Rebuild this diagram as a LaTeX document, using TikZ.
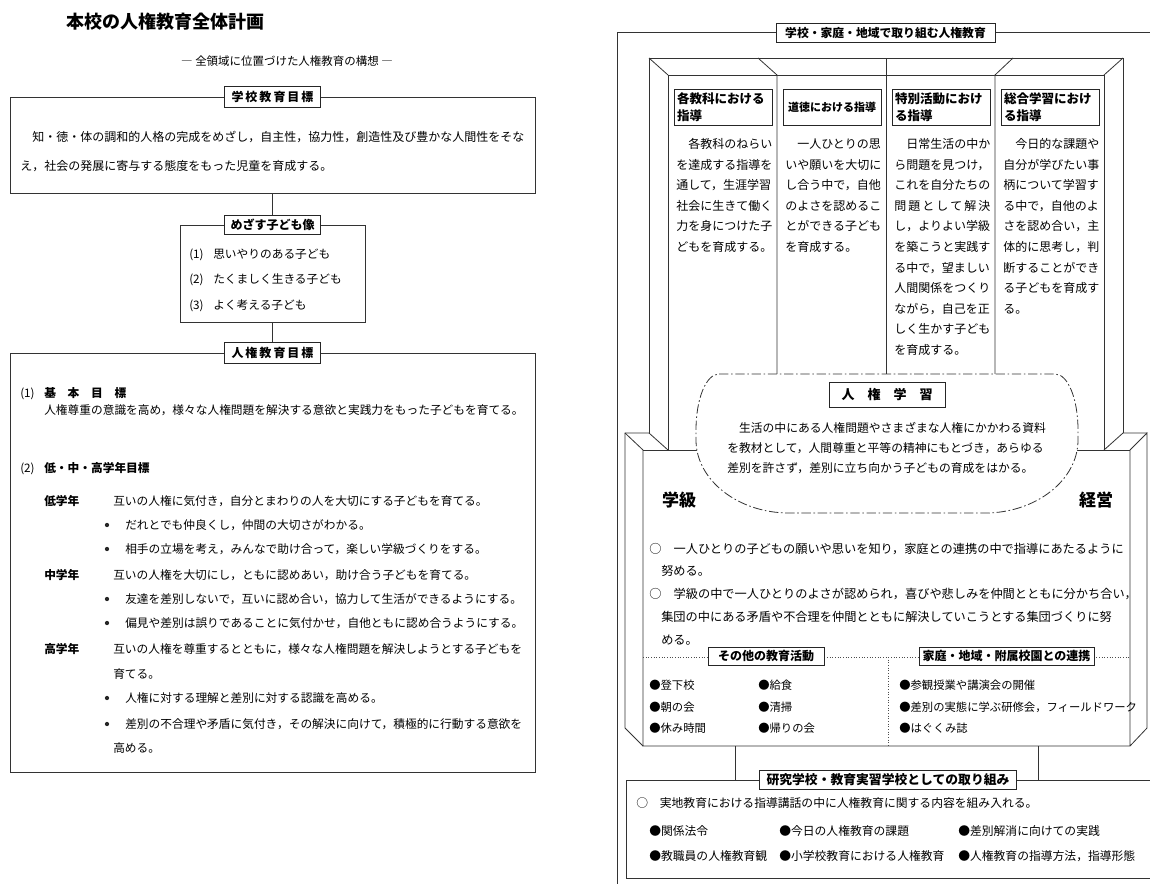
\documentclass[tikz,border=0pt]{standalone}
\usepackage{fontspec}
\setmainfont{Noto Sans CJK JP}
\usetikzlibrary{calc}
\begin{document}
\begin{tikzpicture}[x=0.75pt,y=-0.75pt,
  ln/.style={draw=black!80,line width=0.6pt},
  box/.style={draw=black!80,line width=0.6pt,inner sep=0pt},
  tag/.style={draw=black!85,line width=0.7pt,fill=white,inner sep=0pt,text height=7.92pt,text depth=1.08pt,font=\bfseries\fontsize{9}{9}\selectfont},
  clab/.style={draw=black!85,line width=0.7pt,fill=white,minimum width=73.5pt,minimum height=27pt,text width=69pt,align=left,inner xsep=2.25pt,inner ysep=0pt,font=\bfseries\fontsize{9.4}{12.4}\selectfont},
  title/.style={anchor=west,inner sep=0pt,font=\bfseries\fontsize{13.5}{14}\selectfont,text height=11.88pt,text depth=1.62pt},
  sub/.style={inner sep=0pt,font=\fontsize{8.6}{9}\selectfont,text height=7.57pt,text depth=1.03pt},
  big/.style={inner sep=0pt,font=\bfseries\fontsize{12.75}{13}\selectfont,text height=11.22pt,text depth=1.53pt},
  tA/.style={anchor=west,inner sep=0pt,font=\fontsize{8.78}{9}\selectfont,text height=7.73pt,text depth=1.05pt},
  tAb/.style={tA,font=\bfseries\fontsize{8.78}{9}\selectfont},
  tB/.style={anchor=west,inner sep=0pt,font=\fontsize{9}{9}\selectfont,text height=7.92pt,text depth=1.08pt},
  tC/.style={anchor=west,inner sep=0pt,font=\fontsize{8.85}{9}\selectfont,text height=7.79pt,text depth=1.06pt},
  tD/.style={anchor=west,inner sep=0pt,font=\fontsize{9.15}{9}\selectfont,text height=8.05pt,text depth=1.1pt},
  tE/.style={anchor=west,inner sep=0pt,font=\fontsize{8.5}{9}\selectfont,text height=7.48pt,text depth=1.02pt},
  dot/.style={circle,fill=black!85,inner sep=0pt,minimum size=3.2pt},
  dotl/.style={draw=black!70,line width=0.6pt,dash pattern=on 0.75pt off 1.25pt},
  dashdot/.style={draw=black!80,line width=0.6pt,dash pattern=on 7pt off 2pt on 1.2pt off 2pt}
]
\useasboundingbox (0,0) rectangle (1150,883);
\fill[white] (0,0) rectangle (1150,883);

% ================= LEFT =================
\node[title] (ttl) at (66,22) {本校の人権教育全体計画};
\node[sub] (subt) at (287,61) {― 全領域に位置づけた人権教育の構想 ―};

\node[box,minimum width=393.75pt,minimum height=72pt] (b1) at (272.5,145) {};
\node[tag,minimum width=72pt,minimum height=15.75pt] (b1t) at (b1.north) {学\,校\,教\,育\,目\,標};
\node[tB] (b1a) at (20,137) {　知・徳・体の調和的人格の完成をめざし，自主性，協力性，創造性及び豊かな人間性をそな};
\node[tB] (b1b) at (20,166) {え，社会の発展に寄与する態度をもった児童を育成する。};

\node[box,minimum width=138.75pt,minimum height=72.75pt] (b2) at (272.5,273.5) {};
\node[tag,minimum width=72pt,minimum height=14.25pt] (b2t) at (b2.north) {めざす子ども像};
\draw[ln] (b1.south) -- (b2t.north);
\node[tA] (m1n) at (189,254) {(1)};
\node[tA] (m1) at (213,254) {思いやりのある子ども};
\node[tA] (m2n) at (189,279) {(2)};
\node[tA] (m2) at (213,279) {たくましく生きる子ども};
\node[tA] (m3n) at (189,305) {(3)};
\node[tA] (m3) at (213,305) {よく考える子ども};

\node[box,minimum width=393.75pt,minimum height=314.25pt] (b3) at (272.5,562.5) {};
\node[tag,minimum width=72pt,minimum height=15.75pt] (b3t) at (b3.north) {人\,権\,教\,育\,目\,標};
\draw[ln] (b2.south) -- (b3t.north);

\node[tA] (k1n) at (20,393) {(1)};
\node[tAb] (k1h) at (44,393) {基　本　目　標};
\node[tA] (k1a) at (44,410) {人権尊重の意識を高め，様々な人権問題を解決する意欲と実践力をもった子どもを育てる。};
\node[tA] (k2n) at (20,468) {(2)};
\node[tAb] (k2h) at (44,468) {低・中・高学年目標};

\node[tAb] (g1) at (44,501) {低学年};
\node[tA] (g1a) at (113,501) {互いの人権に気付き，自分とまわりの人を大切にする子どもを育てる。};
\node[dot] (g1b) at (107,525) {};
\node[tA] (g1bt) at (125,525) {だれとでも仲良くし，仲間の大切さがわかる。};
\node[dot] (g1c) at (107,549) {};
\node[tA] (g1ct) at (125,549) {相手の立場を考え，みんなで助け合って，楽しい学級づくりをする。};
\node[tAb] (g2) at (44,575) {中学年};
\node[tA] (g2a) at (113,575) {互いの人権を大切にし，ともに認めあい，助け合う子どもを育てる。};
\node[dot] (g2b) at (107,599) {};
\node[tA] (g2bt) at (125,599) {友達を差別しないで，互いに認め合い，協力して生活ができるようにする。};
\node[dot] (g2c) at (107,623) {};
\node[tA] (g2ct) at (125,623) {偏見や差別は誤りであることに気付かせ，自他ともに認め合うようにする。};
\node[tAb] (g3) at (44,649) {高学年};
\node[tA] (g3a) at (113,649) {互いの人権を尊重するとともに，様々な人権問題を解決しようとする子どもを};
\node[tA] (g3a2) at (113,674) {育てる。};
\node[dot] (g3b) at (107,698) {};
\node[tA] (g3bt) at (125,698) {人権に対する理解と差別に対する認識を高める。};
\node[dot] (g3c) at (107,724) {};
\node[tA] (g3ct) at (125,724) {差別の不合理や矛盾に気付き，その解決に向けて，積極的に行動する意欲を};
\node[tA] (g3c2) at (113,748) {高める。};

% ================= RIGHT =================
\draw[ln] (617,890) -- (617,32.5) -- (1160,32.5);

% upper frame
\draw[ln] (649,433) -- (649,58) -- (1123,58) -- (1123,433);
\draw[ln] (668,450) -- (668,75) -- (1104,75) -- (1104,450);
\draw[ln] (649,58) -- (668,75);
\draw[ln] (1123,58) -- (1104,75);
\draw[ln] (758,58) -- (777,75) -- (777,420);
\draw[ln] (886,58) -- (886,420);
\draw[ln] (1013,58) -- (995,75) -- (995,420);

% lower block
\draw[ln] (625,728) -- (625,433) -- (649,433) -- (668,450);
\draw[ln] (625,433) -- (643,450) -- (643,746) -- (1130,746) -- (1130,450) -- (1147,433) -- (1147,728) -- (1130,746);
\draw[ln] (625,728) -- (643,746);
\draw[ln] (643,450) -- (1130,450);
\draw[ln] (1147,433) -- (1123,433) -- (1104,450);

\node[tag,minimum width=164.25pt,minimum height=14.25pt,font=\bfseries\fontsize{8.85}{9}\selectfont] (rt) at (885.5,32.5) {学校・家庭・地域で取り組む人権教育};

% column labels
\node[clab] (c1t) at (723,107) {各教科における\\指導};
\node[clab,align=center,font=\bfseries\fontsize{8.25}{9}\selectfont] (c2t) at (832,107) {道徳における指導};
\node[clab] (c3t) at (941,107) {特別活動におけ\\る指導};
\node[clab] (c4t) at (1050,107) {総合学習におけ\\る指導};

% column texts
\foreach \t [count=\i] in {　各教科のねらい,を達成する指導を,通して，生涯学習,社会に生きて働く,力を身につけた子,どもを育成する。}
  \node[tB] (ca\i) at (676,{144+20.6*(\i-1)}) {\t};
\foreach \t [count=\i] in {　一人ひとりの思,いや願いを大切に,し合う中で，自他,のよさを認めるこ,とができる子ども,を育成する。}
  \node[tB] (cb\i) at (785,{144+20.6*(\i-1)}) {\t};
\foreach \t [count=\i] in {　日常生活の中か,ら問題を見つけ，,これを自分たちの,{\makebox[72pt][s]{問 題 と し て 解 決}},し，よりよい学級,を築こうと実践す,る中で，望ましい,人間関係をつくり,ながら，自己を正,しく生かす子ども,を育成する。}
  \node[tB] (cc\i) at (894,{144+20.6*(\i-1)}) {\t};
\foreach \t [count=\i] in {　今日的な課題や,自分が学びたい事,柄について学習す,る中で，自他のよ,さを認め合い，主,体的に思考し，判,断することができ,る子どもを育成す,る。}
  \node[tB] (cd\i) at (1003,{144+20.6*(\i-1)}) {\t};

% human rights learning oval
\draw[dashdot,fill=white] (719,374) -- (1055,374) .. controls (1068,374) and (1078,399) .. (1078,430) -- (1078,440) .. controls (1078,480) and (1036,513) .. (985,513) -- (789,513) .. controls (738,513) and (696,480) .. (696,440) -- (696,430) .. controls (696,399) and (706,374) .. (719,374) -- cycle;
\node[tag,minimum width=87pt,minimum height=18.75pt,font=\bfseries\fontsize{9.75}{10}\selectfont] (jg) at (887,394.5) {人　権　学　習};
\node[tC] (e1) at (727,428) {　生活の中にある人権問題やさまざまな人権にかかわる資料};
\node[tC] (e2) at (727,448) {を教材として，人間尊重と平等の精神にもとづき，あらゆる};
\node[tC] (e3) at (727,468) {差別を許さず，差別に立ち向かう子どもの育成をはかる。};

\node[big] (gk) at (679,500) {学級};
\node[big] (ke) at (1096,500) {経営};

\node[tD] (h1) at (649,549) {○　一人ひとりの子どもの願いや思いを知り，家庭との連携の中で指導にあたるように};
\node[tD] (h2) at (661,571) {努める。};
\node[tD] (h3) at (649,594) {○　学級の中で一人ひとりのよさが認められ，喜びや悲しみを仲間とともに分かち合い，};
\node[tD] (h4) at (661,617) {集団の中にある矛盾や不合理を仲間とともに解決していこうとする集団づくりに努};
\node[tD] (h5) at (661,640) {める。};

\draw[dotl] (643,657) -- (1130,657);
\draw[dotl] (888,657) -- (888,746);
\node[tag,minimum width=87pt,minimum height=13.5pt] (sot) at (766,656) {その他の教育活動};
\node[tag,minimum width=131.25pt,minimum height=13.5pt] (kat) at (1006.5,656) {家庭・地域・附属校園との連携};

\node[tE] (s1) at (649,685) {●登下校};
\node[tE] (s2) at (649,707) {●朝の会};
\node[tE] (s3) at (649,728) {●休み時間};
\node[tE] (s4) at (758,685) {●給食};
\node[tE] (s5) at (758,707) {●清掃};
\node[tE] (s6) at (758,728) {●帰りの会};
\node[tE] (s7) at (899,685) {●参観授業や講演会の開催};
\node[tE] (s8) at (899,707) {●差別の実態に学ぶ研修会，フィールドワーク};
\node[tE] (s9) at (899,728) {●はぐくみ誌};

% research school box
\node[box,minimum width=400.5pt,minimum height=73.5pt] (ken) at (893,829) {};
\coordinate (q1) at (735,746);
\coordinate (q2) at (1038,746);
\draw[ln] (q1) -- (q1 |- ken.north);
\draw[ln] (q2) -- (q2 |- ken.north);
\node[tag,minimum width=192.75pt,minimum height=14.25pt,font=\bfseries\fontsize{9.6}{10}\selectfont] (kent) at (888,780) {研究学校・教育実習学校としての取り組み};
\node[tC] (r1) at (636,803) {○　実地教育における指導講話の中に人権教育に関する内容を組み入れる。};
\node[tC] (r2) at (649,831) {●関係法令};
\node[tC] (r3) at (779,831) {●今日の人権教育の課題};
\node[tC] (r4) at (958,831) {●差別解消に向けての実践};
\node[tC] (r5) at (649,856) {●教職員の人権教育観};
\node[tC] (r6) at (779,856) {●小学校教育における人権教育};
\node[tC] (r7) at (958,856) {●人権教育の指導方法，指導形態};
\end{tikzpicture}
\end{document}
